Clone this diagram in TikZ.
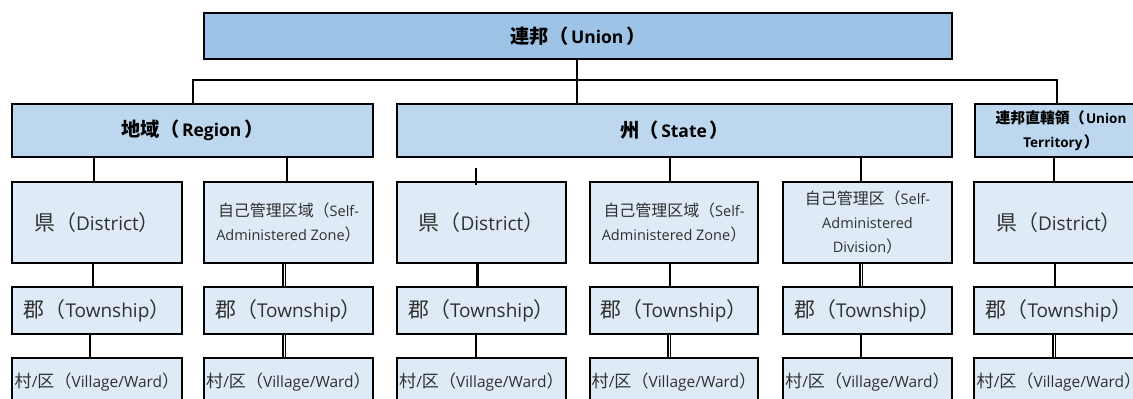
\documentclass[tikz,border=0pt]{standalone}
\usepackage{fontspec}
\setmainfont{Open Sans}
\newfontfamily\cj[Scale=1.1]{Noto Sans CJK JP}
\newcommand{\cjt}[1]{{\cj #1}}
\def\pgap{0em}
\newcommand{\lpar}{{\cj （}\hspace{\pgap}}
\newcommand{\rpar}{\hspace{\pgap}{\cj ）}}
\definecolor{c1}{HTML}{9DC3E6}
\definecolor{c2}{HTML}{BDD7EE}
\definecolor{c3}{HTML}{DEEBF7}
\definecolor{tx}{HTML}{303030}
\begin{document}
\begin{tikzpicture}[x=1pt,y=-1pt,
  box/.style={draw=black,line width=2pt,rectangle,inner sep=0pt,align=center,text=tx},
  lvA/.style={box,fill=c1,font=\fontsize{17.5}{24}\selectfont\bfseries\def\pgap{0.15em},text=black},
  lvB/.style={box,fill=c2,font=\fontsize{17.5}{24}\selectfont\bfseries\def\pgap{0.15em},text=black},
  lvBs/.style={box,fill=c2,font=\fontsize{13.5}{24}\selectfont\bfseries\def\pgap{0.1em},text=black},
  lvC/.style={box,fill=c3,font=\fontsize{19}{24}\selectfont},
  lvCs/.style={box,fill=c3,font=\fontsize{14.5}{24}\selectfont},
  lvD/.style={box,fill=c3,font=\fontsize{19}{24}\selectfont},
  lvE/.style={box,fill=c3,font=\fontsize{15.5}{24}\selectfont},
  conn/.style={draw=black,line width=2.2pt},
  dconn/.style={draw=black,line width=1.2pt,double=white,double distance=1pt}]
\useasboundingbox (0,0) rectangle (1133,399);
\clip (0,0) rectangle (1133,399);
% level 1
\node[lvA,minimum width=748,minimum height=46] (union) at (578,36) {\cjt{連邦}\lpar Union\rpar};
% level 2
\node[lvB,minimum width=361,minimum height=53] (region) at (192.5,130.5) {\cjt{地域}\lpar Region\rpar};
\node[lvB,minimum width=555,minimum height=53] (state) at (674.5,130.5) {\cjt{州}\lpar State\rpar};
\node[lvBs,minimum width=172,minimum height=53] (ut) at (1061,130.5) {\cjt{連邦直轄領}\lpar Union\\Territory\rpar};
% level 3
\node[lvC,minimum width=170,minimum height=81] (d1) at (97,222.5) {\cjt{県}\lpar District\rpar};
\node[lvCs,minimum width=169,minimum height=81] (d2) at (288.5,222.5) {\cjt{自己管理区域}\lpar Self-\\Administered Zone\rpar};
\node[lvC,minimum width=169,minimum height=81] (d3) at (481.5,222.5) {\cjt{県}\lpar District\rpar};
\node[lvCs,minimum width=168,minimum height=81] (d4) at (674,222.5) {\cjt{自己管理区域}\lpar Self-\\Administered Zone\rpar};
\node[lvCs,minimum width=169,minimum height=81] (d5) at (867.5,222.5) {\cjt{自己管理区}\lpar Self-\\Administered\\Division\rpar};
\node[lvC,minimum width=170,minimum height=81] (d6) at (1059,222.5) {\cjt{県}\lpar District\rpar};
% level 4
\node[lvD,minimum width=170,minimum height=47] (t1) at (97,310.5) {\cjt{郡}\lpar Township\rpar};
\node[lvD,minimum width=169,minimum height=47] (t2) at (288.5,310.5) {\cjt{郡}\lpar Township\rpar};
\node[lvD,minimum width=169,minimum height=47] (t3) at (481.5,310.5) {\cjt{郡}\lpar Township\rpar};
\node[lvD,minimum width=168,minimum height=47] (t4) at (674,310.5) {\cjt{郡}\lpar Township\rpar};
\node[lvD,minimum width=169,minimum height=47] (t5) at (867.5,310.5) {\cjt{郡}\lpar Township\rpar};
\node[lvD,minimum width=170,minimum height=47] (t6) at (1059,310.5) {\cjt{郡}\lpar Township\rpar};
% level 5
\node[lvE,minimum width=170,minimum height=48] (v1) at (97,382) {\cjt{村}/\cjt{区}\lpar Village/Ward\rpar};
\node[lvE,minimum width=169,minimum height=48] (v2) at (288.5,382) {\cjt{村}/\cjt{区}\lpar Village/Ward\rpar};
\node[lvE,minimum width=169,minimum height=48] (v3) at (481.5,382) {\cjt{村}/\cjt{区}\lpar Village/Ward\rpar};
\node[lvE,minimum width=168,minimum height=48] (v4) at (674,382) {\cjt{村}/\cjt{区}\lpar Village/Ward\rpar};
\node[lvE,minimum width=169,minimum height=48] (v5) at (867.5,382) {\cjt{村}/\cjt{区}\lpar Village/Ward\rpar};
\node[lvE,minimum width=170,minimum height=48] (v6) at (1059,382) {\cjt{村}/\cjt{区}\lpar Village/Ward\rpar};
% level 1 -> level 2
\coordinate (barL) at (193,80);
\coordinate (barR) at (1057,80);
\draw[conn] ([xshift=-1pt]union.south) -- ([xshift=-1pt]union.south |- state.north);
\draw[conn] (region.north -| barL) -- (barL) -- (barR) -- (ut.north -| barR);
% level 2 -> level 3
\draw[conn] ([xshift=-3pt]d1.north |- region.south) -- ([xshift=-3pt]d1.north);
\draw[conn] ([xshift=-1.5pt]d2.north |- region.south) -- ([xshift=-1.5pt]d2.north);
\coordinate (s3) at (476,168);
\draw[conn] (s3) -- ([yshift=-4pt]s3 |- d3.north);
\draw[conn] ([xshift=-4pt]d4.north |- state.south) -- ([xshift=-4pt]d4.north);
\draw[conn] ([xshift=-6.5pt]d5.north |- state.south) -- ([xshift=-6.5pt]d5.north);
\draw[conn] ([xshift=-5pt]d6.north |- ut.south) -- ([xshift=-5pt]d6.north);
% level 3 -> level 4
\draw[conn] ([xshift=-4pt]d1.south) -- ([xshift=-4pt]t1.north);
\draw[dconn] ([xshift=-4.5pt]d2.south) -- ([xshift=-4.5pt]t2.north);
\draw[conn] ([xshift=-4pt]d3.south) -- ([xshift=-4pt]t3.north);
\draw[conn] ([xshift=-4pt]d4.south) -- ([xshift=-4pt]t4.north);
\draw[dconn] ([xshift=-6.5pt]d5.south) -- ([xshift=-6.5pt]t5.north);
\draw[conn] ([xshift=-4pt]d6.south) -- ([xshift=-4pt]t6.north);
% level 4 -> level 5
\draw[conn] ([xshift=-7pt]t1.south) -- ([xshift=-7pt]v1.north);
\draw[dconn] ([xshift=-4.5pt]t2.south) -- ([xshift=-4.5pt]v2.north);
\draw[conn] ([xshift=-5.5pt]t3.south) -- ([xshift=-5.5pt]v3.north);
\draw[dconn] ([xshift=-5pt]t4.south) -- ([xshift=-5pt]v4.north);
\draw[conn] ([xshift=-6.5pt]t5.south) -- ([xshift=-6.5pt]v5.north);
\draw[dconn] ([xshift=-5pt]t6.south) -- ([xshift=-5pt]v6.north);
\end{tikzpicture}
\end{document}
